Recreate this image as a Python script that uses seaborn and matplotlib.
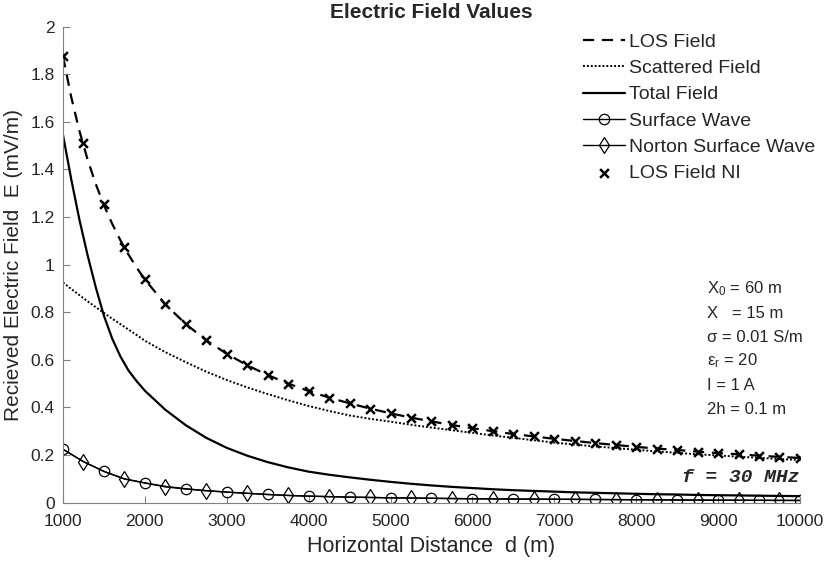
import numpy as np
import pandas as pd
import matplotlib
matplotlib.use('Agg')
import matplotlib.pyplot as plt
import seaborn as sns

# distancias para las curvas continuas (m): mas finas cerca del inicio
d_linea = [1000, 1100, 1200, 1300, 1400, 1500, 1600, 1700, 1800, 1900, 2000,
           2250, 2500, 2750, 3000, 3250, 3500, 3750, 4000, 4250, 4500, 4750,
           5000, 5250, 5500, 5750, 6000, 6250, 6500, 6750, 7000, 7250, 7500,
           7750, 8000, 8250, 8500, 8750, 9000, 9250, 9500, 9750, 10000]

# distancias para las marcas (m), paso de 250 m
d_marcas = np.arange(1000, 10001, 250)

# valores (mV/m)
los_field = [1.875, 1.705, 1.5625, 1.442, 1.339, 1.25, 1.172, 1.103, 1.042, 0.987, 0.9375,
             0.833, 0.75, 0.682, 0.625, 0.577, 0.536, 0.50, 0.469, 0.441, 0.417, 0.395,
             0.375, 0.357, 0.341, 0.326, 0.3125, 0.300, 0.288, 0.278, 0.268, 0.259, 0.250,
             0.242, 0.234, 0.227, 0.221, 0.214, 0.208, 0.203, 0.197, 0.192, 0.1875]

scattered_field = [0.925, 0.898, 0.872, 0.846, 0.821, 0.797, 0.773, 0.75, 0.727, 0.704, 0.68,
                   0.632, 0.59, 0.55, 0.515, 0.484, 0.456, 0.43, 0.406, 0.385, 0.366, 0.352,
                   0.340, 0.327, 0.315, 0.304, 0.293, 0.282, 0.272, 0.262, 0.252, 0.244, 0.236,
                   0.229, 0.222, 0.215, 0.209, 0.203, 0.198, 0.193, 0.188, 0.183, 0.179]

total_field = [1.545, 1.36, 1.19, 1.04, 0.905, 0.785, 0.69, 0.615, 0.555, 0.51, 0.47,
               0.39, 0.325, 0.272, 0.23, 0.197, 0.17, 0.148, 0.13, 0.117, 0.106, 0.096,
               0.087, 0.079, 0.072, 0.066, 0.061, 0.056, 0.052, 0.049, 0.046, 0.043, 0.041,
               0.039, 0.037, 0.035, 0.034, 0.032, 0.031, 0.030, 0.029, 0.028, 0.027]

los_field_ni = [1.875, 1.51, 1.255, 1.075, 0.94, 0.835, 0.75, 0.683, 0.626, 0.577,
                0.536, 0.50, 0.469, 0.441, 0.417, 0.395, 0.375, 0.357, 0.341, 0.326,
                0.313, 0.300, 0.288, 0.278, 0.268, 0.259, 0.250, 0.242, 0.234, 0.227,
                0.221, 0.214, 0.208, 0.203, 0.197, 0.192, 0.188]

surface_wave = [0.224, 0.172, 0.131, 0.100, 0.083, 0.068, 0.058, 0.050, 0.044, 0.039,
                0.034, 0.030, 0.027, 0.025, 0.023, 0.0215, 0.020, 0.019, 0.018, 0.017,
                0.016, 0.0155, 0.015, 0.0145, 0.014, 0.0135, 0.013, 0.0125, 0.012, 0.0115,
                0.011, 0.0105, 0.010, 0.0098, 0.0095, 0.0092, 0.009]

norton_wave = [0.224, 0.172, 0.131, 0.099, 0.082, 0.066, 0.057, 0.050, 0.044, 0.039,
               0.034, 0.030, 0.027, 0.025, 0.023, 0.0215, 0.020, 0.019, 0.018, 0.017,
               0.016, 0.0155, 0.015, 0.0145, 0.014, 0.0135, 0.013, 0.0125, 0.012, 0.0115,
               0.011, 0.0105, 0.010, 0.0098, 0.0095, 0.0092, 0.009]

x_ticks = [1000, 2000, 3000, 4000, 5000, 6000, 7000, 8000, 9000, 10000]
y_ticks = [0, 0.2, 0.4, 0.6, 0.8, 1.0, 1.2, 1.4, 1.6, 1.8, 2.0]
y_labels = ['0', '0.2', '0.4', '0.6', '0.8', '1', '1.2', '1.4', '1.6', '1.8', '2']

parametros = [r'X$_0$ = 60 m', 'X   = 15 m', 'σ = 0.01 S/m',
              r'ε$_\mathregular{r}$ = 20', 'I = 1 A', '2h = 0.1 m']

df_linea = pd.DataFrame({'d': d_linea, 'los': los_field,
                         'scat': scattered_field, 'total': total_field})
df_marcas = pd.DataFrame({'d': d_marcas, 'los_ni': los_field_ni,
                          'sw': surface_wave, 'norton': norton_wave})

sns.set_style('ticks')
plt.rcParams['font.family'] = ['Liberation Sans', 'DejaVu Sans']
plt.rcParams['mathtext.fontset'] = 'custom'
plt.rcParams['mathtext.rm'] = 'Liberation Sans'
plt.rcParams['mathtext.it'] = 'Liberation Sans'

fig = plt.figure(figsize=(8.32, 5.64), dpi=100)
ax = fig.add_axes([0.0757, 0.1089, 0.8858, 0.8439])

sns.lineplot(data=df_linea, x='d', y='los', ax=ax, color='k', lw=1.6,
             linestyle=(0, (5, 3.5)), label='LOS Field')
sns.lineplot(data=df_linea, x='d', y='scat', ax=ax, color='k', lw=1.4,
             linestyle=(0, (1, 1)), label='Scattered Field')
sns.lineplot(data=df_linea, x='d', y='total', ax=ax, color='k', lw=1.6,
             label='Total Field')
sns.lineplot(data=df_marcas, x='d', y='sw', ax=ax, color='k', lw=1.0, marker='o',
             markersize=7.5, markerfacecolor='none', markeredgecolor='k',
             markeredgewidth=0.9, markevery=(0, 2), label='Surface Wave')
sns.lineplot(data=df_marcas, x='d', y='norton', ax=ax, color='k', lw=1.0, marker='d',
             markersize=8, markerfacecolor='none', markeredgecolor='k',
             markeredgewidth=0.9, markevery=(1, 2), label='Norton Surface Wave')
sns.scatterplot(data=df_marcas, x='d', y='los_ni', ax=ax, color='k', marker='x',
                s=40, linewidth=1.8, label='LOS Field NI', zorder=5)

ax.set_xlim(1000, 10000)
ax.set_ylim(0, 2)
ax.set_xticks(x_ticks)
ax.set_xticklabels([str(t) for t in x_ticks])
ax.set_yticks(y_ticks)
ax.set_yticklabels(y_labels)
ax.tick_params(direction='in', length=5, color='#808080', labelsize=12.5)
ax.tick_params(axis='x', pad=8)
ax.tick_params(axis='y', pad=6)
for lado in ['left', 'bottom']:
    ax.spines[lado].set_color('#808080')
    ax.spines[lado].set_linewidth(0.8)
sns.despine(ax=ax)

ax.set_xlabel('Horizontal Distance  d (m)', fontsize=15.5, labelpad=5)
ax.set_ylabel('Recieved Electric Field  E (mV/m)', fontsize=15, labelpad=5)
ax.set_title('Electric Field Values', fontsize=15, fontweight='bold', pad=6)

ax.legend(loc='upper left', bbox_to_anchor=(583 / 832, 1 - 33 / 564),
          bbox_transform=fig.transFigure, frameon=False, fontsize=14,
          handlelength=2.15, handletextpad=0.2, labelspacing=0.45,
          borderpad=0, borderaxespad=0)

for i, txt in enumerate(parametros):
    fig.text(707 / 832, 1 - (289 + i * 24) / 564, txt, fontsize=12,
             va='center', ha='left')

fig.text(800 / 832, 1 - 478 / 564, 'f = 30 MHz', fontsize=14,
         family='Liberation Mono', fontweight='bold', style='italic',
         ha='right', va='center')

plt.savefig('out.png', dpi=100)
plt.close()
